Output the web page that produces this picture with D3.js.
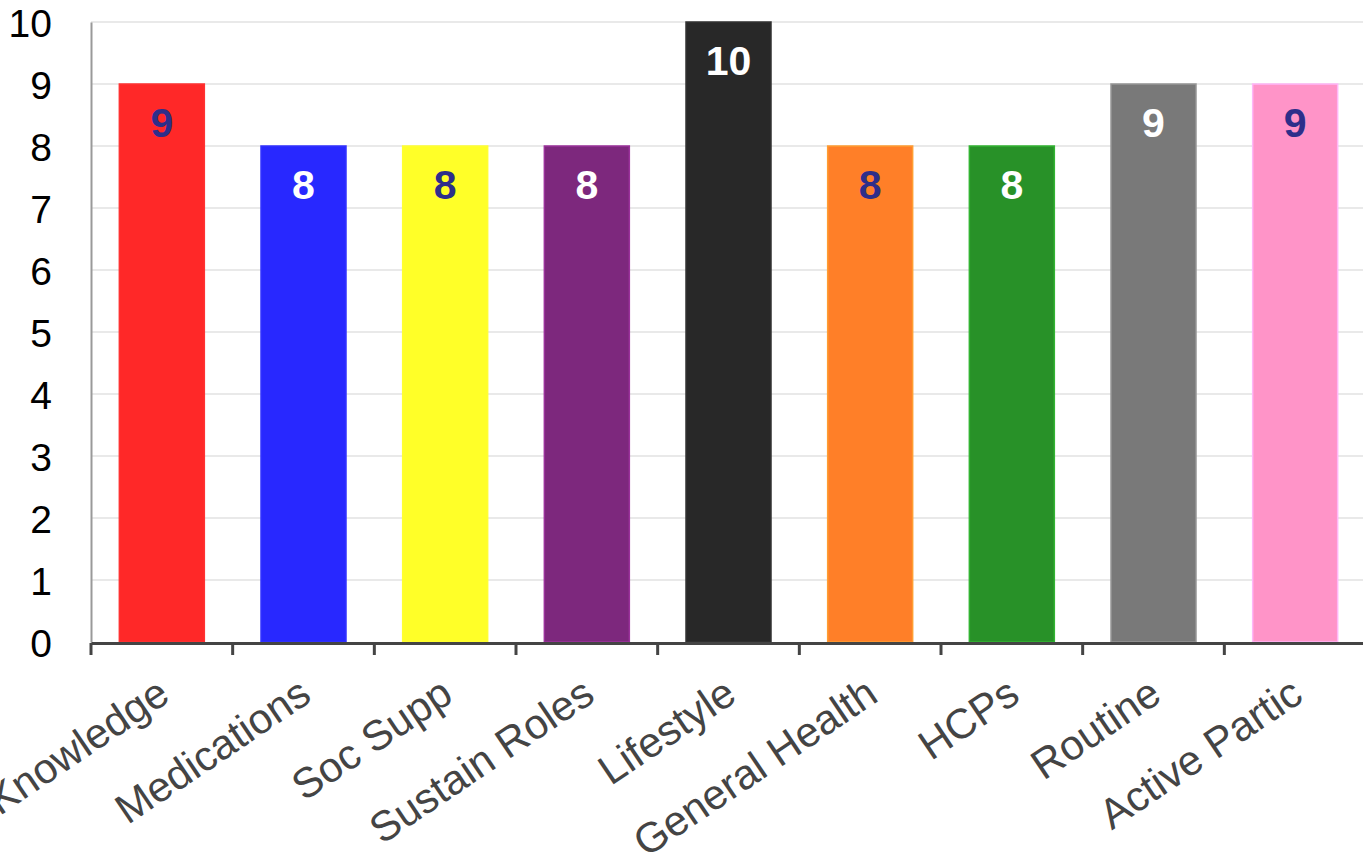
<!DOCTYPE html>
<html><head><meta charset="utf-8">
<script src="https://cdn.jsdelivr.net/npm/d3@7"></script>
<style>html,body{margin:0;padding:0;background:#fff;}svg{display:block;}</style>
</head><body>
<svg id="chart" width="1363" height="855"></svg>
<script>
const categories = ["Knowledge","Medications","Soc Supp","Sustain Roles","Lifestyle","General Health","HCPs","Routine","Active Partic"];
const values = [9,8,8,8,10,8,8,9,9];
const barColors = ["#ff2828","#2828ff","#ffff28","#7d287d","#282828","#ff7f28","#289128","#797979","#ff94c8"];
const labelColors = ["#2e2e8a","#ffffff","#2e2e8a","#ffffff","#ffffff","#2e2e8a","#ffffff","#ffffff","#2e2e8a"];
const yTicks = [0,1,2,3,4,5,6,7,8,9,10];

const svg = d3.select("#chart");
const m = {left:91, top:22, right:-3, bottom:213};
const W = 1363, H = 855;
const x = d3.scaleBand().domain(categories).range([m.left, W - m.right]).paddingInner(0.4).paddingOuter(0.2);
const y = d3.scaleLinear().domain([0,10]).range([H - m.bottom, m.top]);

// gridlines
svg.append("g").selectAll("line").data(yTicks.filter(d=>d>0)).join("line")
  .attr("x1", m.left).attr("x2", W).attr("y1", d=>y(d)).attr("y2", d=>y(d))
  .attr("stroke", "#e2e2e2").attr("stroke-width", 1.5);

// bars
svg.append("g").selectAll("rect").data(categories).join("rect")
  .attr("x", d=>x(d)).attr("width", x.bandwidth())
  .attr("y", (d,i)=>y(values[i])).attr("height", (d,i)=>y(0)-y(values[i]))
  .attr("fill", (d,i)=>barColors[i])
  .attr("stroke", (d,i)=>d3.color(barColors[i]).brighter(0.6))
  .attr("stroke-width", 1.5);

// value labels
svg.append("g").selectAll("text").data(categories).join("text")
  .attr("x", d=>x(d)+x.bandwidth()/2)
  .attr("y", (d,i)=>y(values[i])+53)
  .attr("text-anchor","middle")
  .attr("font-family","'Liberation Sans', Arial, sans-serif")
  .attr("font-weight","bold").attr("font-size",41)
  .attr("fill",(d,i)=>labelColors[i])
  .text((d,i)=>values[i]);

// y axis
const yAxis = svg.append("g").attr("transform",`translate(${m.left},0)`)
  .call(d3.axisLeft(y).tickValues(yTicks).tickSize(0).tickPadding(39).tickFormat(d3.format("d")));
yAxis.select(".domain").attr("stroke","#999").attr("stroke-width",2);
yAxis.selectAll("text").attr("font-family","'Liberation Sans', Arial, sans-serif")
  .attr("font-size",39).attr("fill","#000").attr("dy","0.36em");

// x axis
const xAxis = svg.append("g").attr("transform",`translate(0,${y(0)+1})`)
  .call(d3.axisBottom(x).tickSize(0).tickFormat(""));
xAxis.select(".domain").attr("stroke","#444").attr("stroke-width",3);
xAxis.selectAll(".tick").remove();
const step = x.step();
const bounds = d3.range(categories.length+1).map(i => m.left + i*step);
xAxis.selectAll("line.sep").data(bounds).join("line").attr("class","sep")
  .attr("x1",d=>d).attr("x2",d=>d).attr("y1",0).attr("y2",12)
  .attr("stroke","#444").attr("stroke-width",3);

// x labels
svg.append("g").selectAll("text").data(categories).join("text")
  .attr("transform", d=>`translate(${x(d)+x.bandwidth()/2+10},${y(0)+58}) rotate(-34)`)
  .attr("text-anchor","end")
  .attr("font-family","'Liberation Sans', Arial, sans-serif")
  .attr("font-size",42).attr("fill","#444")
  .text(d=>d);
</script>
</body></html>
